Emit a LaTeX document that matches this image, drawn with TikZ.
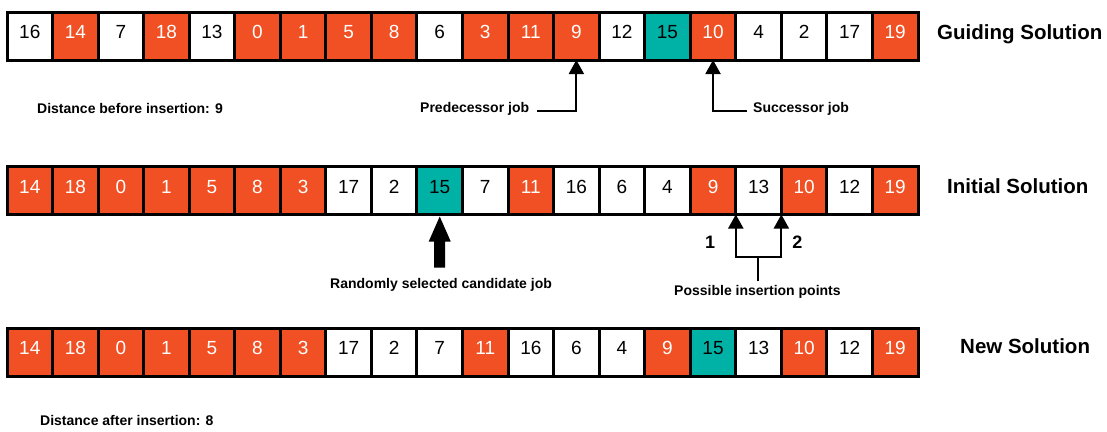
\documentclass[tikz,border=0pt]{standalone}
\usepackage{fontspec}
\setmainfont{Liberation Sans}
\usetikzlibrary{arrows.meta}
\definecolor{orgc}{HTML}{F05023}
\definecolor{tealc}{HTML}{00B2A6}
\begin{document}
\begin{tikzpicture}[x=1pt,y=-1pt,
 cell/.style={draw=black,line width=3pt,minimum width=45.55pt,minimum height=48pt,inner sep=0pt,outer sep=0pt,text height=13pt,text depth=8pt,font=\fontsize{19}{21}\selectfont},
 cw/.style={cell,fill=white,text=black},
 co/.style={cell,fill=orgc,text=white},
 ct/.style={cell,fill=tealc,text=black},
 title/.style={anchor=base west,inner sep=0pt,font=\fontsize{20.5}{24}\selectfont\bfseries},
 lbl/.style={anchor=base west,inner sep=0pt,font=\fontsize{14}{16}\selectfont\bfseries},
 num/.style={anchor=base,inner sep=0pt,font=\fontsize{18}{20}\selectfont\bfseries},
 arr/.style={line width=2pt,-{Triangle[width=15pt,length=14pt]}},
 ln/.style={line width=2pt},
 ]
\useasboundingbox (0,0) rectangle (1107,431);
% Guiding solution
\foreach \v/\c [count=\i from 0] in {16/cw,14/co,7/cw,18/co,13/cw,0/co,1/co,5/co,8/co,6/cw,3/co,11/co,9/co,12/cw,15/ct,10/co,4/cw,2/cw,17/cw,19/co}
  \node[\c] (g\i) at ({7+45.55*(\i+0.5)},36) {\v};
% Initial solution
\foreach \v/\c [count=\i from 0] in {14/co,18/co,0/co,1/co,5/co,8/co,3/co,17/cw,2/cw,15/ct,7/cw,11/co,16/cw,6/cw,4/cw,9/co,13/cw,10/co,12/cw,19/co}
  \node[\c] (m\i) at ({7+45.55*(\i+0.5)},190.5) {\v};
% New solution
\foreach \v/\c [count=\i from 0] in {14/co,18/co,0/co,1/co,5/co,8/co,3/co,17/cw,2/cw,7/cw,11/co,16/cw,6/cw,4/cw,9/co,15/ct,13/cw,10/co,12/cw,19/co}
  \node[\c] (n\i) at ({7+45.55*(\i+0.5)},352) {\v};

\node[title] (tg) at (937,39.5) {Guiding Solution};
\node[title] (ti) at (947,193.3) {Initial Solution};
\node[title] (tn) at (960,353.3) {New Solution};

\node[lbl] (db) at (37,113) {Distance before insertion: 9};
\node[lbl] (pred) at (420,112.5) {Predecessor job};
\node[lbl] (succ) at (753,112.5) {Successor job};
\node[lbl] (rand) at (330,288.3) {Randomly selected candidate job};
\node[lbl] (poss) at (674,295) {Possible insertion points};
\node[lbl] (da) at (40,425) {Distance after insertion: 8};
\node[num] (one) at (710,248.3) {1};
\node[num] (two) at (797.3,248.3) {2};

\coordinate (pc) at (537,111);
\draw[arr] (pc) -| (g12.south);
\coordinate (sc) at (747,111);
\draw[arr] (sc) -| (g15.south);

\fill[black] ([yshift=-2pt]m9.south) -- ++(11,25) -- ++(-5.5,0) -- ++(0,26) -- ++(-11,0) -- ++(0,-26) -- ++(-5.5,0) -- cycle;

\coordinate (ipb) at (757.5,281);
\coordinate (ipm) at (757.5,257);
\draw[ln] (ipb) -- (ipm);
\draw[arr] (ipm) -| (m16.south west);
\draw[arr] (ipm) -| (m17.south west);
\end{tikzpicture}
\end{document}
